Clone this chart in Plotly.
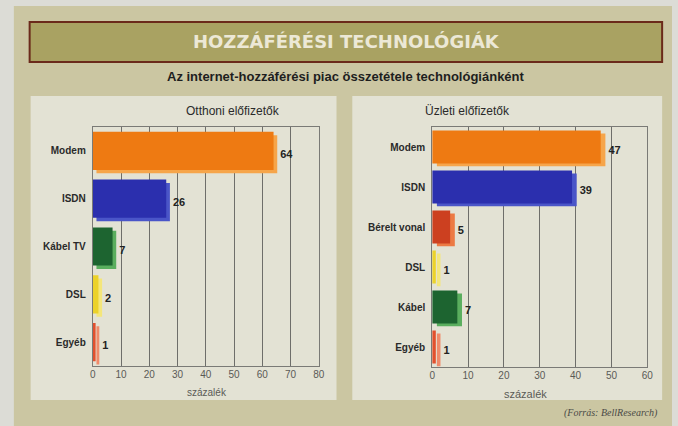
import plotly.graph_objects as go

W, H = 678, 426

# ---- data ----
home_categories = ["Modem", "ISDN", "Kábel TV", "DSL", "Egyéb"]
home_values = [64, 26, 7, 2, 1]
biz_categories = ["Modem", "ISDN", "Bérelt vonal", "DSL", "Kábel", "Egyéb"]
biz_values = [47, 39, 5, 1, 7, 1]
home_ticks = [0, 10, 20, 30, 40, 50, 60, 70, 80]
biz_ticks = [0, 10, 20, 30, 40, 50, 60]

title_text = "HOZZÁFÉRÉSI TECHNOLÓGIÁK"
subtitle_text = "Az internet-hozzáférési piac összetétele technológiánként"
home_title = "Otthoni előfizetők"
biz_title = "Üzleti előfizetők"
axis_title = "százalék"
source_text = "(Forrás: BellResearch)"

# ---- styles ----
front = {"Modem": "#ee7a12", "ISDN": "#2b2fae", "Kábel TV": "#1d6430", "Kábel": "#1d6430",
         "DSL": "#ecd22a", "Egyéb": "#e2502e", "Bérelt vonal": "#cc4020"}
side = {"Modem": "#f6a54a", "ISDN": "#4a55c8", "Kábel TV": "#5aae5e", "Kábel": "#5aae5e",
        "DSL": "#f4e67a", "Egyéb": "#f08a6a", "Bérelt vonal": "#ec7a44"}
FONT = "Liberation Sans, Arial, sans-serif"
MAIN_BG = "#cbc6a2"
PANEL_BG = "#e3e2d4"
GRID = "#6e6e6a"


def px_x(p):
    return p / W


def px_y(p):
    return 1 - p / H


fig = go.Figure()


def add_chart(cats, vals, xa, ya, bw):
    depth = 1.3
    fig.add_trace(go.Bar(
        y=cats, x=vals, base=depth, orientation="h",
        marker=dict(color=[side[c] for c in cats], line=dict(width=0)),
        width=bw, offset=-bw / 2 + 0.07,
        text=[str(v) for v in vals], textposition="outside",
        textfont=dict(family=FONT, size=11, color="#222222", weight="bold"),
        cliponaxis=False, xaxis=xa, yaxis=ya, showlegend=False, hoverinfo="skip"))
    fig.add_trace(go.Bar(
        y=cats, x=vals, orientation="h",
        marker=dict(color=[front[c] for c in cats], line=dict(width=0)),
        width=bw, offset=-bw / 2,
        xaxis=xa, yaxis=ya, showlegend=False))


add_chart(home_categories, home_values, "x", "y", 0.8)
add_chart(biz_categories, biz_values, "x2", "y2", 0.82)

axis_common = dict(showgrid=True, gridcolor=GRID, gridwidth=1, zeroline=False,
                   showline=True, linecolor="#7a7a76", linewidth=1, mirror=True,
                   ticks="", ticklabelstandoff=-1,
                   tickfont=dict(family=FONT, size=10, color="#5a5a56"))
cat_common = dict(showgrid=False, zeroline=False, showline=True, linecolor="#7a7a76",
                  linewidth=1, mirror=True, ticks="", autorange="reversed",
                  tickfont=dict(family=FONT, size=10, color="#2a2a2a", weight="bold"),
                  ticklabelstandoff=4)

fig.update_layout(
    width=W, height=H, margin=dict(l=0, r=0, t=0, b=0),
    paper_bgcolor="#dcdcd6", plot_bgcolor=PANEL_BG,
    barmode="overlay", bargap=0.2,
    xaxis=dict(domain=[px_x(91), px_x(320)], range=[0, 80], tickvals=home_ticks,
               anchor="y", **axis_common),
    yaxis=dict(domain=[px_y(366), px_y(127)], anchor="x", **cat_common),
    xaxis2=dict(domain=[px_x(435), px_x(653)], range=[0, 60], tickvals=biz_ticks,
                anchor="y2", **axis_common),
    yaxis2=dict(domain=[px_y(367), px_y(127)], anchor="x2", **cat_common),
)

shapes = [
    # main khaki frame
    dict(type="rect", xref="paper", yref="paper", x0=px_x(11), x1=1, y0=0, y1=px_y(6),
         fillcolor=MAIN_BG, line=dict(width=0), layer="below"),
    # banner
    dict(type="rect", xref="paper", yref="paper", x0=px_x(27), x1=px_x(668), y0=px_y(62), y1=px_y(22),
         fillcolor="#a9a262", line=dict(color="#6b2a1a", width=2), layer="below"),
    # panels
    dict(type="rect", xref="paper", yref="paper", x0=px_x(28), x1=px_x(338), y0=px_y(400), y1=px_y(96),
         fillcolor=PANEL_BG, line=dict(width=0), layer="below"),
    dict(type="rect", xref="paper", yref="paper", x0=px_x(354), x1=px_x(668), y0=px_y(400), y1=px_y(96),
         fillcolor=PANEL_BG, line=dict(width=0), layer="below"),
]

annotations = [
    dict(text=title_text, x=px_x(348), y=px_y(42), yanchor="middle",
         font=dict(family="DejaVu Sans, sans-serif", size=18, color="#ece8d6", weight="bold")),
    dict(text=subtitle_text, x=px_x(348), y=px_y(76), yanchor="middle",
         font=dict(family=FONT, size=13, color="#1e1e1e", weight="bold")),
    dict(text=home_title, x=px_x(183), y=px_y(111), yanchor="middle",
         font=dict(family=FONT, size=12, color="#2a2a2a")),
    dict(text=biz_title, x=px_x(516), y=px_y(111), yanchor="middle",
         font=dict(family=FONT, size=12, color="#2a2a2a")),
    dict(text=axis_title, x=px_x(185), y=px_y(386), yanchor="top", borderpad=0,
         font=dict(family=FONT, size=10, color="#5a5a56")),
    dict(text=axis_title, x=px_x(552), y=px_y(387), yanchor="top", borderpad=0,
         font=dict(family=FONT, size=11, color="#5a5a56")),
    dict(text=source_text, x=px_x(666), y=px_y(413), xanchor="right", yanchor="middle",
         font=dict(family="Liberation Serif, serif", size=10, color="#4a4a46", style="italic")),
]
for a in annotations:
    a.update(xref="paper", yref="paper", showarrow=False)

fig.update_layout(shapes=shapes, annotations=annotations)
fig.write_html("out.html", config={"displayModeBar": False},
               post_script="document.body.style.margin='0px';document.body.style.overflow='hidden';")
